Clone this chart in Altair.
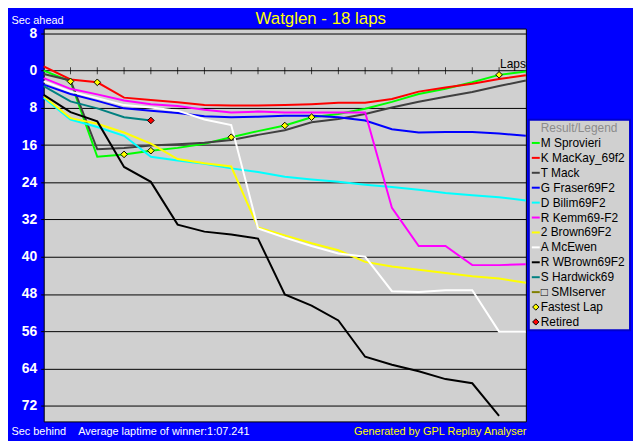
import altair as alt
import pandas as pd

laps = [0, 1, 2, 3, 4, 5, 6, 7, 8, 9, 10, 11, 12, 13, 14, 15, 16, 17, 18]
tick_laps = [1, 2, 3, 4, 5, 6, 7, 8, 9, 10, 11, 12, 13, 14, 15, 16, 17]

drivers = ["M Sprovieri", "K MacKay_69f2", "T Mack", "G Fraser69F2", "D Bilim69F2",
           "R Kemm69-F2", "2 Brown69F2", "A McEwen", "R WBrown69F2", "S Hardwick69",
           "SMIserver"]
legend_labels = ["M Sprovieri", "K MacKay_69f2", "T Mack", "G Fraser69F2", "D Bilim69F2",
                 "R Kemm69-F2", "2 Brown69F2", "A McEwen", "R WBrown69F2", "S Hardwick69",
                 "\u25a1 SMIserver"]
colors = ["#00ff00", "#ff0000", "#404040", "#0000ff", "#00ffff", "#ff00ff",
          "#ffff00", "#ffffff", "#000000", "#008080", "#808000"]

# seconds behind the winner's average pace, one value per lap
sprovieri = [0.0, 2.3, 18.5, 18.0, 17.2, 16.6, 15.7, 14.3, 13.0, 11.8, 10.0, 9.3, 8.2, 6.7, 5.0, 3.9, 2.5, 0.9, 0.2]
mackay = [-0.9, 1.9, 2.5, 5.8, 6.3, 6.8, 7.4, 7.5, 7.5, 7.4, 7.2, 6.9, 6.9, 6.1, 4.5, 3.6, 2.8, 1.8, 1.0]
mack = [0.7, 2.1, 16.9, 16.6, 16.1, 15.8, 15.5, 14.9, 13.8, 12.8, 11.1, 10.4, 9.3, 7.9, 6.7, 5.6, 4.6, 3.3, 2.1]
fraser = [3.0, 5.0, 6.5, 8.1, 8.6, 9.1, 9.8, 10.0, 9.9, 9.7, 9.7, 10.0, 10.7, 12.6, 13.3, 13.2, 13.2, 13.5, 14.0]
bilim = [5.8, 10.5, 12.1, 14.0, 18.5, 19.3, 20.0, 21.0, 21.8, 22.8, 23.4, 23.9, 24.5, 25.0, 25.6, 26.3, 26.8, 27.2, 27.9]
kemm = [1.6, 3.9, 5.1, 6.4, 7.2, 7.6, 8.4, 9.0, 8.8, 9.0, 9.0, 9.0, 9.0, 29.5, 37.7, 37.7, 41.8, 41.8, 41.6]
brown2 = [5.5, 10.2, 11.4, 13.3, 15.7, 19.0, 19.9, 20.6, 33.7, 35.4, 37.1, 38.6, 41.1, 42.1, 42.8, 43.5, 44.2, 44.7, 45.6]
mcewen = [2.3, 4.5, 5.9, 7.4, 7.9, 8.6, 10.5, 11.7, 33.9, 35.9, 37.7, 39.3, 40.0, 47.4, 47.6, 47.2, 47.2, 56.1, 56.1]
wbrown = [5.2, 8.9, 10.9, 20.7, 23.9, 33.1, 34.6, 35.2, 36.1, 48.1, 50.5, 53.7, 61.5, 63.2, 64.6, 66.3, 67.2, 74.2]
hardwick = [3.3, 6.6, 8.1, 10.0, 10.7]
smiserver = []

fl_driver = ["M Sprovieri", "K MacKay_69f2", "M Sprovieri", "M Sprovieri",
             "M Sprovieri", "M Sprovieri", "M Sprovieri", "M Sprovieri"]
fl_lap = [1, 2, 3, 4, 7, 9, 10, 17]
retired_driver = ["S Hardwick69"]
retired_lap = [4]

y_ticks = [-8, 0, 8, 16, 24, 32, 40, 48, 56, 64, 72]

FONT = "Liberation Sans"
BG = "#0000ff"
PANEL = "#d0d0d0"
W, H = 486, 396

series = [sprovieri, mackay, mack, fraser, bilim, kemm, brown2, mcewen, wbrown, hardwick, smiserver]
rows = []
for name, vals in zip(drivers, series):
    for lap, v in zip(laps, vals):
        rows.append({"driver": name, "lap": lap, "gap": v})
gaps = pd.DataFrame(rows)

lookup = {name: dict(zip(laps, vals)) for name, vals in zip(drivers, series)}
fastest = pd.DataFrame({"lap": fl_lap, "gap": [lookup[d][l] for d, l in zip(fl_driver, fl_lap)]})
retired = pd.DataFrame({"lap": retired_lap, "gap": [lookup[d][l] for d, l in zip(retired_driver, retired_lap)]})
ticks = pd.DataFrame({"lap": tick_laps, "gap": [0] * len(tick_laps)})
laps_end = pd.DataFrame({"lap": [laps[-1]], "gap": [0], "label": ["Laps"]})

x_scale = alt.Scale(domain=[0, 18], nice=False, zero=False)
y_scale = alt.Scale(domain=[-9.05, 75.4], reverse=True, nice=False, zero=False)

# non-breaking spaces so the gap survives in svg text
footer_left = "Sec behind\u00a0\u00a0\u00a0\u00a0Average laptime of winner:1:07.241"

lines = (
    alt.Chart(gaps)
    .mark_line(strokeWidth=2)
    .encode(
        x=alt.X("lap:Q", scale=x_scale,
                axis=alt.Axis(labels=False, ticks=False, domain=False, grid=False,
                              title=footer_left,
                              titleX=-33, titleY=13, titleAlign="left",
                              titleBaseline="alphabetic", titleColor="white",
                              titleFont=FONT, titleFontSize=11, titleFontWeight="normal")),
        y=alt.Y("gap:Q", scale=y_scale,
                axis=alt.Axis(values=y_ticks, labelExpr="'' + abs(datum.value)",
                              labelColor="white", labelFont=FONT, labelFontSize=14,
                              labelFontWeight="bold", labelPadding=4,
                              tickColor="black", tickSize=3, domain=False,
                              grid=True, gridColor="black", gridOpacity=1, gridWidth=1,
                              title="Sec ahead", titleAngle=0, titleX=-33, titleY=-3,
                              titleAlign="left", titleBaseline="bottom", titleColor="white",
                              titleFont=FONT, titleFontSize=11, titleFontWeight="normal")),
        color=alt.Color("driver:N", scale=alt.Scale(domain=drivers, range=colors), legend=None),
        order="lap:Q",
    )
)

lap_ticks = (
    alt.Chart(ticks)
    .mark_tick(orient="vertical", size=7, thickness=1, color="black")
    .encode(
        x=alt.X("lap:Q", scale=x_scale, axis=None),
        y=alt.Y("gap:Q", scale=y_scale,
                axis=alt.Axis(orient="right", labels=False, ticks=False, domain=False,
                              grid=False, title="Generated by GPL Replay Analyser",
                              titleAngle=0, titleX=0, titleY=H + 13, titleAlign="right",
                              titleBaseline="alphabetic", titleColor="#ffff00",
                              titleFont=FONT, titleFontSize=11, titleFontWeight="normal")),
    )
)

laps_label = (
    alt.Chart(laps_end)
    .mark_text(align="right", baseline="alphabetic", dy=-3,
               font=FONT, fontSize=12, color="black")
    .encode(x=alt.X("lap:Q", scale=x_scale, axis=None),
            y=alt.Y("gap:Q", scale=y_scale, axis=None),
            text="label:N")
)

fast_pts = (
    alt.Chart(fastest)
    .mark_point(shape="diamond", filled=True, fill="#ffff00", stroke="black",
                strokeWidth=1, size=45, opacity=1)
    .encode(x=alt.X("lap:Q", scale=x_scale, axis=None),
            y=alt.Y("gap:Q", scale=y_scale, axis=None))
)

retired_pts = (
    alt.Chart(retired)
    .mark_point(shape="diamond", filled=True, fill="#ff0000", stroke="black",
                strokeWidth=1, size=45, opacity=1)
    .encode(x=alt.X("lap:Q", scale=x_scale, axis=None),
            y=alt.Y("gap:Q", scale=y_scale, axis=None))
)

main = (
    alt.layer(lines, lap_ticks, laps_label, fast_pts, retired_pts)
    .resolve_axis(x="independent", y="independent")
    .properties(width=W, height=H,
                view=alt.ViewBackground(fill=PANEL, stroke="black", strokeWidth=1))
)

# custom legend panel
leg_text = ["Result/Legend"] + legend_labels + ["Fastest Lap", "Retired"]
leg_kind = ["title"] + ["line"] * len(legend_labels) + ["point", "point"]
leg_color = [PANEL] + colors + ["#ffff00", "#ff0000"]
leg_tcolor = ["#8c8c8c"] + ["black"] * (len(legend_labels) + 2)
legend_df = pd.DataFrame({"row": list(range(len(leg_text))), "label": leg_text,
                          "kind": leg_kind, "color": leg_color, "tcolor": leg_tcolor})

leg_base = alt.Chart(legend_df).encode(
    y=alt.Y("row:O", axis=None, scale=alt.Scale(paddingInner=0, paddingOuter=0.05))
)
leg_lines = (
    leg_base.transform_filter("datum.kind == 'line'")
    .mark_rule(strokeWidth=2)
    .encode(x=alt.value(3), x2=alt.value(11), color=alt.Color("color:N", scale=None))
)
leg_pts = (
    leg_base.transform_filter("datum.kind == 'point'")
    .mark_point(shape="diamond", filled=True, stroke="black", strokeWidth=1, size=40, opacity=1)
    .encode(x=alt.value(7), fill=alt.Fill("color:N", scale=None))
)
leg_labels = (
    leg_base.mark_text(align="left", baseline="middle", font=FONT, fontSize=12)
    .encode(x=alt.value(12), text="label:N", color=alt.Color("tcolor:N", scale=None))
)
legend = (
    alt.layer(leg_lines, leg_pts, leg_labels)
    .properties(width=102, height=212,
                view=alt.ViewBackground(fill=PANEL, stroke="#0000cc", strokeWidth=2))
)

chart = (
    alt.hconcat(main, legend, spacing=3, center=True, bounds="flush")
    .properties(
        title=alt.TitleParams("Watglen - 18 laps", color="#ffff00", font=FONT,
                              fontSize=17, fontWeight="normal", anchor="middle", offset=-14),
        padding={"left": 2, "top": 0, "right": 2, "bottom": 2},
    )
    .configure(background=BG)
)

chart.save("out.html", embed_options={"renderer": "svg", "actions": False})
